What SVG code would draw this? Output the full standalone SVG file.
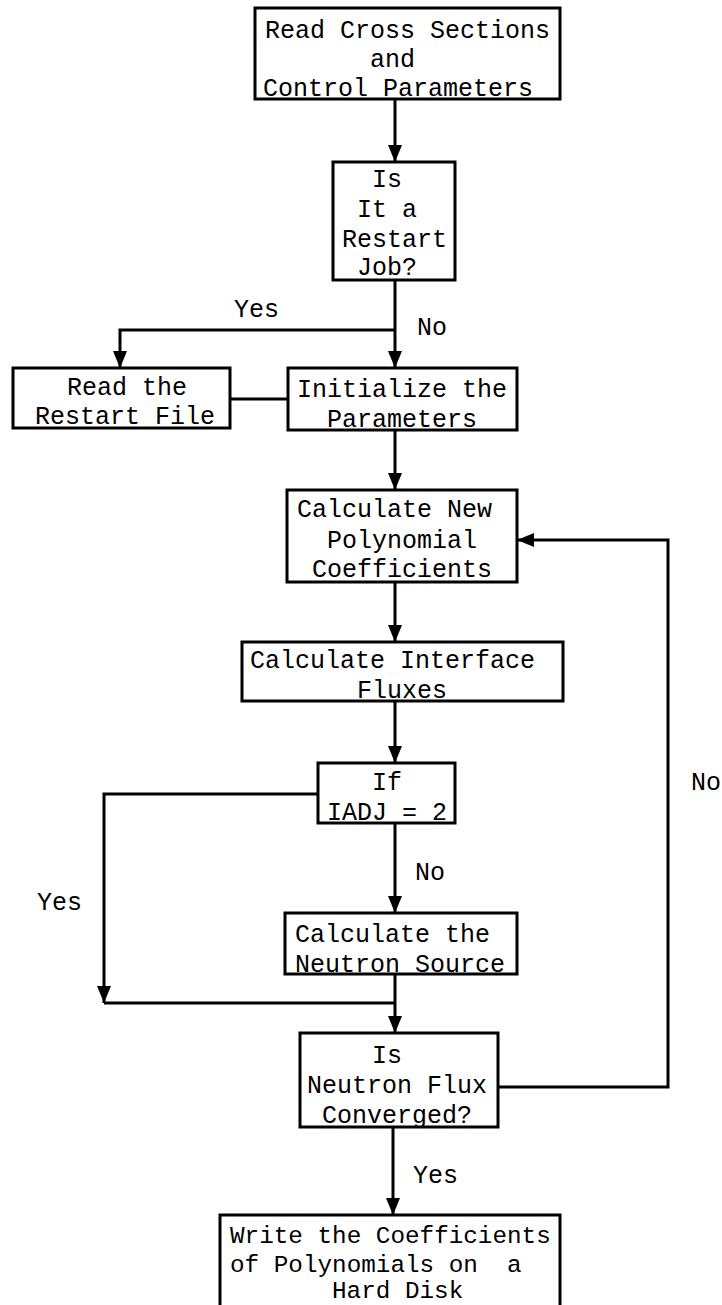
<svg xmlns="http://www.w3.org/2000/svg" width="722" height="1305" viewBox="0 0 722 1305">
<defs>
<style>
.box{fill:#fff;stroke:#000;stroke-width:3}
.t{font-family:"Liberation Mono","Courier New",monospace;font-size:25px;fill:#000;white-space:pre}
.s{font-size:24.3px}
.c{fill:none;stroke:#000;stroke-width:3}
</style>
<marker id="ah" markerUnits="userSpaceOnUse" markerWidth="17" markerHeight="14" refX="17" refY="7" orient="auto">
<path d="M0,0 L17,7 L0,14 z" fill="#000"/>
</marker>
</defs>
<rect width="722" height="1305" fill="#fff"/>

<g id="connectors">
<path class="c" d="M395,99 V162" marker-end="url(#ah)"/>
<path class="c" d="M395,280 V368" marker-end="url(#ah)"/>
<path class="c" d="M395,330 H120 V368" marker-end="url(#ah)"/>
<path class="c" d="M230,399 H288"/>
<path class="c" d="M395,430 V490" marker-end="url(#ah)"/>
<path class="c" d="M395,582 V642" marker-end="url(#ah)"/>
<path class="c" d="M395,701 V763" marker-end="url(#ah)"/>
<path class="c" d="M395,823 V913" marker-end="url(#ah)"/>
<path class="c" d="M318,794 H104 V1003" marker-end="url(#ah)"/>
<path class="c" d="M104,1003 H395"/>
<path class="c" d="M395,974 V1033" marker-end="url(#ah)"/>
<path class="c" d="M498,1087 H668 V540 H517" marker-end="url(#ah)"/>
<path class="c" d="M393,1127 V1215" marker-end="url(#ah)"/>
<text class="t" x="234" y="317">Yes</text>
<text class="t" x="417" y="335">No</text>
<text class="t" x="415" y="880">No</text>
<text class="t" x="37" y="910">Yes</text>
<text class="t" x="691" y="790">No</text>
<text class="t" x="413" y="1183">Yes</text>
</g>

<g id="n-read-cross">
<rect class="box" x="255" y="8" width="305" height="91"/>
<text class="t" x="265" y="38">Read Cross Sections</text>
<text class="t" x="370" y="67">and</text>
<text class="t" x="263" y="96">Control Parameters</text>
</g>

<g id="n-restart-q">
<rect class="box" x="333" y="162" width="122" height="118"/>
<text class="t" x="372" y="187">Is</text>
<text class="t" x="357" y="217">It a</text>
<text class="t" x="342" y="247">Restart</text>
<text class="t" x="357" y="275">Job?</text>
</g>

<g id="n-read-restart">
<rect class="box" x="13" y="368" width="217" height="60"/>
<text class="t" x="67" y="395">Read the</text>
<text class="t" x="35" y="424">Restart File</text>
</g>

<g id="n-init">
<rect class="box" x="288" y="368" width="229" height="62"/>
<text class="t" x="297" y="397">Initialize the</text>
<text class="t" x="327" y="427">Parameters</text>
</g>

<g id="n-calc-poly">
<rect class="box" x="287" y="490" width="230" height="92"/>
<text class="t" x="297" y="517">Calculate New</text>
<text class="t" x="327" y="548">Polynomial</text>
<text class="t" x="312" y="577">Coefficients</text>
</g>

<g id="n-interface">
<rect class="box" x="242" y="642" width="321" height="59"/>
<text class="t" x="250" y="668">Calculate Interface</text>
<text class="t" x="357" y="698">Fluxes</text>
</g>

<g id="n-iadj">
<rect class="box" x="318" y="763" width="137" height="60"/>
<text class="t" x="372" y="790">If</text>
<text class="t" x="327" y="820">IADJ = 2</text>
</g>

<g id="n-source">
<rect class="box" x="285" y="913" width="232" height="61"/>
<text class="t" x="295" y="942">Calculate the</text>
<text class="t" x="295" y="972">Neutron Source</text>
</g>

<g id="n-converged">
<rect class="box" x="300" y="1033" width="198" height="94"/>
<text class="t" x="372" y="1063">Is</text>
<text class="t" x="307" y="1093">Neutron Flux</text>
<text class="t" x="322" y="1123">Converged?</text>
</g>

<g id="n-write">
<rect class="box" x="220" y="1215" width="340" height="100"/>
<text class="t s" x="230" y="1243">Write the Coefficients</text>
<text class="t s" x="230" y="1272">of Polynomials on  a</text>
<text class="t s" x="332" y="1298">Hard Disk</text>
</g>
</svg>
